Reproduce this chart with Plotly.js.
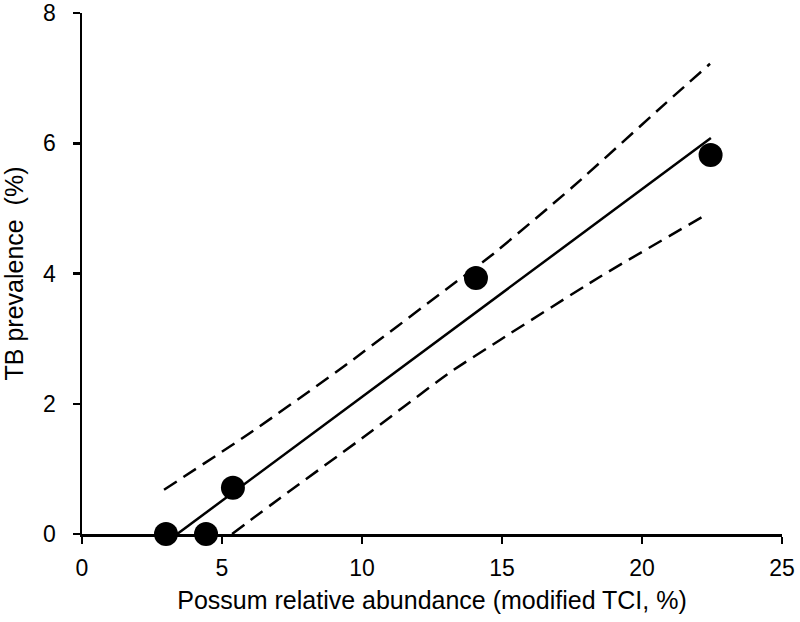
<!DOCTYPE html>
<html>
<head>
<meta charset="utf-8">
<script src="https://cdn.plot.ly/plotly-3.0.1.min.js"></script>
<style>html,body{margin:0;padding:0;background:#fff;}#chart{width:800px;height:622px;}</style>
</head>
<body>
<div id="chart"></div>
<script>
// observed points
const abundance = [3.0, 4.43, 5.39, 14.07, 22.45];
const prevalence = [0.0, 0.0, 0.71, 3.93, 5.82];
// fitted regression line
const fitX = [3.4, 22.46];
const fitY = [0.0, 6.08];
// upper confidence band
const upperX = [2.93, 6.0, 9.5, 13.14, 14.57, 17.5, 20.86, 22.43];
const upperY = [0.68, 1.55, 2.62, 3.80, 4.26, 5.32, 6.62, 7.22];
// lower confidence band
const lowerX = [5.36, 7.07, 10.0, 13.14, 14.93, 18.5, 22.36];
const lowerY = [0.0, 0.55, 1.47, 2.48, 2.98, 3.95, 4.92];

const tickFont = {family: '"Liberation Sans", Arial, sans-serif', size: 23, color: '#000'};
const titleFont = {family: '"Liberation Sans", Arial, sans-serif', size: 25, color: '#000'};

const traces = [
  {x: upperX, y: upperY, mode: 'lines', line: {color: '#000', width: 2.5, dash: '15px,8px', shape: 'spline', smoothing: 0.6}, hoverinfo: 'skip'},
  {x: lowerX, y: lowerY, mode: 'lines', line: {color: '#000', width: 2.5, dash: '15px,8px', shape: 'spline', smoothing: 0.6}, hoverinfo: 'skip'},
  {x: fitX, y: fitY, mode: 'lines', line: {color: '#000', width: 2.5}},
  {x: abundance, y: prevalence, mode: 'markers', marker: {color: '#000', size: 24}, cliponaxis: false}
];

const layout = {
  width: 800, height: 622,
  margin: {l: 82, r: 18, t: 13, b: 88},
  paper_bgcolor: '#fff', plot_bgcolor: '#fff',
  showlegend: false,
  font: tickFont,
  xaxis: {
    range: [0, 25], tickvals: [0, 5, 10, 15, 20, 25], ticktext: ['0','5','10','15','20','25'],
    tickfont: tickFont,
    showline: true, linecolor: '#000', linewidth: 2.5, ticks: 'outside', ticklen: 7, tickwidth: 2.5, tickcolor: '#000',
    showgrid: false, zeroline: false, ticklabelstandoff: 5,
    title: {text: 'Possum relative abundance (modified TCI, %)', font: titleFont, standoff: 12},
    automargin: false
  },
  yaxis: {
    range: [0, 8], tickvals: [0, 2, 4, 6, 8], ticktext: ['0','2','4','6','8'],
    tickfont: tickFont,
    showline: true, linecolor: '#000', linewidth: 2.5, ticks: 'outside', ticklen: 7, tickwidth: 2.5, tickcolor: '#000',
    showgrid: false, zeroline: false, ticklabelstandoff: 12,
    title: {text: 'TB prevalence  (%)', font: titleFont, standoff: 20},
    automargin: false
  }
};

Plotly.newPlot('chart', traces, layout, {displayModeBar: false, staticPlot: true});
</script>
</body>
</html>
